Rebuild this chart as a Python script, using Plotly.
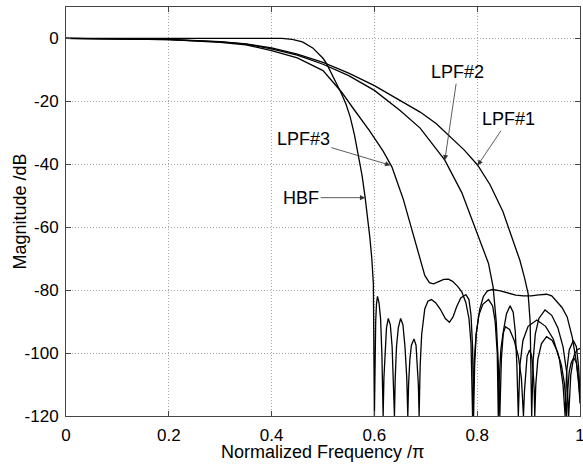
import plotly.graph_objects as go

# ---- data (normalized frequency, magnitude dB) ----
HBF = [(0, 0), (0.1, 0), (0.2, 0), (0.3, 0), (0.38, 0), (0.42, 0), (0.44, -0.3), (0.46, -1.1), (0.48, -3.0),
       (0.488, -4.3), (0.5, -6.3), (0.507, -8.0), (0.515, -10.6), (0.523, -13.3), (0.53, -15.6), (0.536, -17.6),
       (0.545, -21), (0.553, -25), (0.561, -30.5), (0.569, -37), (0.576, -43.5), (0.582, -50.6), (0.587, -57),
       (0.591, -63), (0.595, -70), (0.598, -78), (0.6, -120),
       (0.601, -100), (0.6025, -90), (0.604, -84.5), (0.606, -82), (0.609, -84), (0.612, -89), (0.6145, -100), (0.617, -120),
       (0.6185, -108), (0.621, -98), (0.6235, -92), (0.627, -89), (0.631, -91), (0.6345, -98), (0.637, -108), (0.639, -120),
       (0.6405, -108), (0.643, -98), (0.6465, -92), (0.651, -89), (0.6555, -91), (0.6595, -98), (0.663, -108), (0.665, -120),
       (0.6665, -110), (0.669, -102), (0.672, -97.5), (0.677, -95.5), (0.681, -97.5), (0.6835, -103), (0.6855, -110), (0.687, -120),
       (0.689, -104), (0.692, -94), (0.698, -86), (0.704, -83.5), (0.711, -83), (0.719, -84), (0.728, -86), (0.738, -89),
       (0.746, -90.2), (0.753, -88.5), (0.760, -85.3), (0.768, -82.5), (0.778, -81.4), (0.784, -83), (0.788, -88),
       (0.791, -98), (0.793, -120),
       (0.795, -104), (0.798, -94), (0.803, -88), (0.811, -84.5), (0.822, -83), (0.830, -85), (0.835, -90), (0.839, -100), (0.841, -120),
       (0.843, -108), (0.846, -99), (0.850, -94), (0.855, -91.6), (0.863, -92.5), (0.872, -96), (0.880, -101), (0.886, -108), (0.890, -120),
       (0.892, -112), (0.894, -106), (0.897, -101), (0.902, -99), (0.906, -101), (0.909, -106), (0.911, -112), (0.912, -120),
       (0.914, -110), (0.918, -102), (0.925, -97), (0.935, -94.8), (0.946, -96), (0.956, -99.5), (0.964, -104), (0.970, -110), (0.974, -120),
       (0.976, -112), (0.979, -106), (0.983, -103), (0.988, -101.5), (0.993, -103), (0.997, -108), (1.0, -116)]

LPF1 = [(0, 0), (0.1, -0.1), (0.2, -0.3), (0.3, -1.0), (0.35, -1.7), (0.4, -3.0), (0.45, -5.0), (0.5, -7.6),
        (0.55, -11), (0.6, -15), (0.654, -20), (0.689, -23.4), (0.72, -27), (0.75, -31.5), (0.775, -35.5),
        (0.801, -40.3), (0.825, -46.5), (0.85, -55), (0.870, -64), (0.883, -70.5), (0.892, -76), (0.899, -81),
        (0.903, -90), (0.906, -120),
        (0.909, -102), (0.913, -94), (0.920, -89), (0.932, -86.3), (0.945, -88), (0.957, -92), (0.967, -98),
        (0.974, -106), (0.978, -120), (0.982, -107), (0.988, -101), (0.994, -99), (1.0, -98.5)]

LPF2 = [(0, 0), (0.1, -0.1), (0.2, -0.35), (0.3, -1.1), (0.35, -1.8), (0.4, -3.3), (0.45, -5.3), (0.5, -8.2),
        (0.55, -11.8), (0.6, -16.5), (0.65, -22.9), (0.689, -28.5), (0.737, -38.7), (0.77, -49), (0.805, -64),
        (0.822, -71.5), (0.831, -79), (0.837, -90), (0.841, -103), (0.844, -120),
        (0.847, -102), (0.851, -93), (0.857, -87.5), (0.864, -85), (0.870, -87), (0.874, -93), (0.877, -103), (0.880, -120),
        (0.883, -104), (0.889, -96), (0.899, -91.5), (0.916, -89.5), (0.933, -91.5), (0.948, -95.5), (0.960, -102),
        (0.967, -110), (0.971, -120),
        (0.974, -106), (0.979, -99), (0.987, -96), (0.993, -98), (0.997, -104), (1.0, -112)]

LPF3 = [(0, 0), (0.1, -0.1), (0.2, -0.4), (0.3, -1.2), (0.35, -2.0), (0.4, -3.9), (0.45, -6.2), (0.5, -10.2),
        (0.536, -17), (0.56, -22.5), (0.59, -29.2), (0.617, -35.8), (0.634, -40.8), (0.656, -51), (0.673, -61),
        (0.685, -68.4), (0.698, -75.3), (0.707, -77.6), (0.715, -78), (0.725, -77.3), (0.735, -76.6), (0.744, -76.5),
        (0.752, -77.2), (0.762, -78.8), (0.770, -80.5), (0.778, -84), (0.784, -89), (0.788, -97), (0.791, -120),
        (0.794, -103), (0.798, -94), (0.805, -86), (0.812, -82), (0.820, -80.2), (0.830, -79.8), (0.845, -80.2),
        (0.860, -81), (0.875, -81.6), (0.890, -81.8), (0.905, -81.8), (0.920, -81.5), (0.935, -81.3), (0.945, -81.8),
        (0.955, -83.5), (0.965, -85.5), (0.975, -88.5), (0.985, -95), (0.993, -103), (1.0, -114)]

x_ticks = [0, 0.2, 0.4, 0.6, 0.8, 1]
x_tick_labels = ["0", "0.2", "0.4", "0.6", "0.8", "1"]
y_ticks = [0, -20, -40, -60, -80, -100, -120]
y_tick_labels = ["0", "-20", "-40", "-60", "-80", "-100", "-120"]

x_title = "Normalized Frequency /π"
y_title = "Magnitude /dB"

# label, arrow-tip frequency, arrow-tip dB, text offset (px)
labels = ["LPF#2", "LPF#1", "LPF#3", "HBF"]
label_tip_x = [0.737, 0.801, 0.631, 0.582]
label_tip_y = [-38.7, -40.3, -40.3, -50.6]
label_dx = [13, 31, -87, -64]
label_dy = [-88, -46, -26, 0]

FONT = "Liberation Sans, Arial, sans-serif"

fig = go.Figure()
for name, pts in [("HBF", HBF), ("LPF#1", LPF1), ("LPF#2", LPF2), ("LPF#3", LPF3)]:
    xs = [p[0] for p in pts]
    ys = [p[1] for p in pts]
    fig.add_trace(go.Scatter(x=xs, y=ys, mode="lines", name=name,
                             line=dict(color="black", width=1.3)))

for t, tx, ty, dx, dy in zip(labels, label_tip_x, label_tip_y, label_dx, label_dy):
    fig.add_annotation(x=tx, y=ty, ax=dx, ay=dy, text=t, showarrow=True,
                       arrowhead=2, arrowsize=1.3, arrowwidth=0.8, arrowcolor="#333",
                       font=dict(family=FONT, size=18, color="black"))

# axis titles (placed as paper-anchored text to match the tight reference layout)
fig.add_annotation(xref="paper", yref="paper", x=0.5, y=-0.088, xanchor="center", yanchor="middle",
                   text=x_title, showarrow=False, font=dict(family=FONT, size=18, color="black"))
fig.add_annotation(xref="paper", yref="paper", x=-0.0914, y=0.5, xanchor="center", yanchor="middle",
                   text=y_title, textangle=-90, showarrow=False, font=dict(family=FONT, size=18, color="black"))

axis_common = dict(showline=True, linecolor="#444", linewidth=1, mirror="ticks",
                   ticks="inside", ticklen=5, tickcolor="#444", automargin=False,
                   ticklabeloverflow="allow",
                   showgrid=True, gridcolor="#a8a8a8", griddash="1px,2px", gridwidth=1,
                   zeroline=False, tickfont=dict(family=FONT, size=17, color="black"))

fig.update_layout(
    width=583, height=464,
    margin=dict(l=66, r=3, t=7, b=48),
    paper_bgcolor="white", plot_bgcolor="white",
    showlegend=False,
    font=dict(family=FONT, size=18, color="black"),
    xaxis=dict(range=[0, 1], tickvals=x_ticks, ticktext=x_tick_labels,
               ticklabelstandoff=4, **axis_common),
    yaxis=dict(range=[-120, 10], tickvals=y_ticks, ticktext=y_tick_labels,
               ticklabelstandoff=3, **axis_common),
)

fig.write_html("out.html", config={"displayModeBar": False},
               post_script="document.body.style.margin='0';document.body.style.overflow='hidden';")
